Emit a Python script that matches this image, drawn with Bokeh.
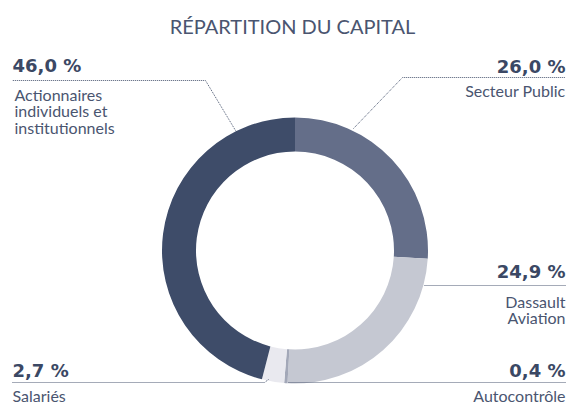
import math
from bokeh.plotting import figure
from bokeh.models import Range1d, ColumnDataSource
from bokeh.core.properties import value
from bokeh.embed import file_html
from bokeh.resources import INLINE

# ---- data ----
categories = ["Secteur Public", "Dassault Aviation", "Autocontrôle", "Salariés",
              "Actionnaires individuels et institutionnels"]
shares = [26.0, 24.9, 0.4, 2.7, 46.0]
pct_labels = ["26,0 %", "24,9 %", "0,4 %", "2,7 %", "46,0 %"]
name_lines = [["Secteur Public"], ["Dassault", "Aviation"], ["Autocontrôle"], ["Salariés"],
              ["Actionnaires", "individuels et", "institutionnels"]]
colors = ["#646e89", "#c5c8d2", "#a3a8b8", "#e9e9ef", "#3e4c69"]

W, H = 566, 404


def Y(y_img):
    return H - y_img


p = figure(width=W, height=H, output_backend="svg", toolbar_location=None,
           x_range=Range1d(0, W), y_range=Range1d(0, H),
           min_border=0, outline_line_color=None)
p.axis.visible = False
p.grid.visible = False
p.background_fill_color = "white"
p.border_fill_color = "white"

# ---- donut ----
cx, cy = 294.5, 250
total = sum(shares)
starts, ends = [], []
cum = 0.0
for s in shares:
    starts.append(math.pi / 2 - 2 * math.pi * cum / total)
    cum += s
    ends.append(math.pi / 2 - 2 * math.pi * cum / total)
src = ColumnDataSource(dict(x=[cx] * len(shares), y=[Y(cy)] * len(shares),
                            start=starts, end=ends, color=colors, cat=categories))
p.annular_wedge(x="x", y="y", inner_radius=99, outer_radius=133,
                inner_radius_units="screen", outer_radius_units="screen",
                start_angle="start", end_angle="end", direction="clock",
                fill_color="color", line_color=None, source=src)

# ---- leader lines (layout) ----
lead_col = "#4a5670"
RX = 565
BL = 382  # bottom leader row
leaders = [
    [(353, 128), (402, 77), (RX, 77)],      # Secteur Public
    [(424, 285), (RX, 285)],                # Dassault
    [(288, 382), (300, BL), (RX, BL)],      # Autocontrôle
    [(268, 379), (264, BL), (12, BL)],      # Salariés
    [(235, 130), (205, 80), (12, 80)],      # Actionnaires
]
for pts in leaders:
    p.line([q[0] for q in pts], [Y(q[1]) for q in pts], line_color=lead_col,
           line_width=1, line_dash="1 1")

# ---- labels (layout) ----
pct_pos = [(RX, 65.5, "right"), (RX, 271, "right"), (RX, 370, "right"),
           (12, 370, "left"), (12, 65, "left")]
name_pos = [(RX, 90, "right"), (RX, 300.5, "right"), (RX, 395, "right"),
            (12, 395, "left"), (14, 93.5, "left")]
pct_color = "#3b4864"
name_color = "#4a5570"
for i in range(len(shares)):
    x, y, al = pct_pos[i]
    p.text(x=[x], y=[Y(y)], text=[pct_labels[i]], text_font=value("DejaVu Sans"),
           text_font_style="bold", text_font_size="18px", text_color=pct_color,
           text_align=al, text_baseline="middle")
    nx, ny, nal = name_pos[i]
    for j, ln in enumerate(name_lines[i]):
        p.text(x=[nx], y=[Y(ny + 16.7 * j)], text=[ln], text_font=value("Lato"),
               text_font_size="16px", text_color=name_color,
               text_align=nal, text_baseline="middle")

# ---- title ----
p.text(x=[292], y=[Y(25.5)], text=["RÉPARTITION DU CAPITAL"], text_font=value("Lato"),
       text_font_size="20px", text_color="#4a5570", text_align="center",
       text_baseline="middle")

open("out.html", "w").write(file_html(p, INLINE))
